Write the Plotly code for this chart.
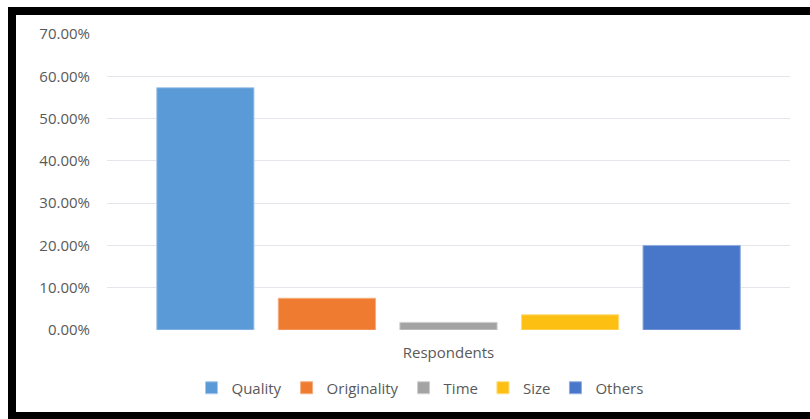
import plotly.graph_objects as go

categories = ["Respondents"]
series_names = ["Quality", "Originality", "Time", "Size", "Others"]
series_values = [0.573, 0.075, 0.018, 0.036, 0.200]
series_colors = ["#5a9ad7", "#ee7b30", "#a3a3a3", "#fcbf12", "#4876c8"]
line_colors = ["#a9c9ec", "#f4ae80", "#cfcfcf", "#ffdc7a", "#93acdd"]
y_ticks = [0, 0.1, 0.2, 0.3, 0.4, 0.5, 0.6, 0.7]

W, H = 810, 419
L, R, T, B = 107, 20, 34, 89
pw, ph = W - L - R, H - T - B

fig = go.Figure()
for name, val, col, lc in zip(series_names, series_values, series_colors, line_colors):
    fig.add_trace(go.Bar(
        x=categories, y=[val], name=name,
        marker=dict(color=col, line=dict(color=lc, width=1)),
    ))

def px_x(p):
    return (p - L) / pw

def px_y(p):
    return (H - B - p) / ph

shapes = []
for x0, y0, x1, y1 in [(8, 7, 16, 414), (8, 7, 812, 15), (8, 412, 812, 421)]:
    shapes.append(dict(type="rect", xref="paper", yref="paper",
                       x0=px_x(x0), x1=px_x(x1), y0=px_y(y1), y1=px_y(y0),
                       fillcolor="black", line=dict(width=0), layer="above"))

fig.update_layout(
    width=W, height=H,
    margin=dict(l=L, r=R, t=T, b=B),
    paper_bgcolor="white", plot_bgcolor="white",
    font=dict(family="Open Sans", size=15, color="#595959"),
    barmode="group", bargap=0.11, bargroupgap=0.2,
    showlegend=True,
    legend=dict(orientation="h", x=px_x(420), xanchor="center", y=px_y(388), yanchor="middle",
                font=dict(size=15, color="#595959"), itemwidth=30, traceorder="normal"),
    xaxis=dict(showgrid=False, showline=False, ticks="", showticklabels=False,
               title=dict(text="Respondents", font=dict(size=15, color="#595959"), standoff=17)),
    yaxis=dict(range=[0, 0.7], tickvals=y_ticks, tickformat=".2%",
               gridcolor="#e3e6ea", gridwidth=1, zeroline=False, showline=False,
               ticks="", ticklabelstandoff=16, tickfont=dict(size=15, color="#595959")),
    shapes=shapes,
)

fig.write_html("out.html")
